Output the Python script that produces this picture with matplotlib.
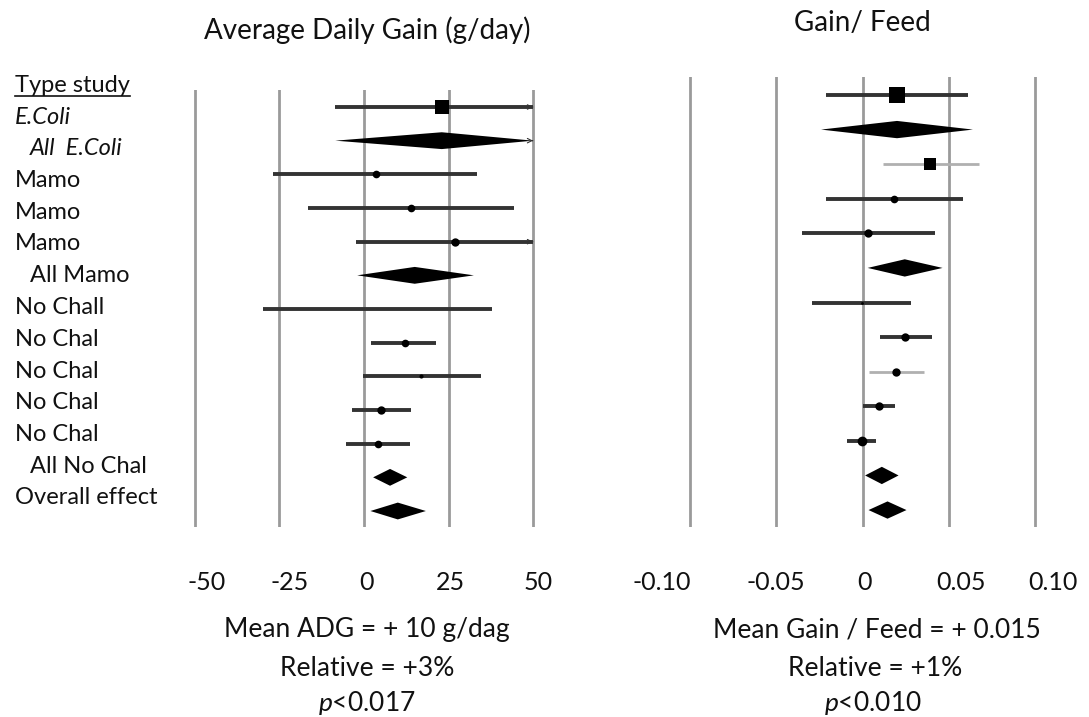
import matplotlib.pyplot as plt
from matplotlib.transforms import ScaledTranslation

plt.rcParams['font.family'] = ['Lato', 'DejaVu Sans']
plt.rcParams['mathtext.fontset'] = 'custom'
plt.rcParams['mathtext.rm'] = 'Lato'
plt.rcParams['mathtext.it'] = 'Lato:italic'

# study rows, top to bottom
study_labels = ["E.Coli", "All  E.Coli", "Mamo", "Mamo", "Mamo", "All Mamo",
                "No Chall", "No Chal", "No Chal", "No Chal", "No Chal",
                "All No Chal", "Overall effect"]
label_indent = [0, 1, 0, 0, 0, 1, 0, 0, 0, 0, 0, 1, 0]
label_italic = [1, 1, 0, 0, 0, 0, 0, 0, 0, 0, 0, 0, 0]
is_pooled = [0, 1, 0, 0, 0, 1, 0, 0, 0, 0, 0, 1, 1]

# Average daily gain (g/day)
adg_est = [23, 23, 3.5, 14, 27, 15, 4, 12, 17, 5, 4, 7.7, 10]
adg_lo = [-8.5, -8.5, -27, -16.5, -2.5, -2, -30, 2.2, -0.4, -3.6, -5.2, 2.7, 1.9]
adg_hi = [50, 50, 33.5, 44.4, 50, 32.5, 38, 21.4, 34.6, 14, 13.7, 12.8, 18.3]
adg_arrow = [1, 1, 0, 0, 1, 0, 0, 0, 0, 0, 0, 0, 0]
adg_msize = [10, 0, 5.5, 5.5, 6, 0, 0, 5.5, 3, 6, 5.5, 0, 0]
adg_marker = ['s', '', 'o', 'o', 'o', '', 'o', 'o', 'o', 'o', 'o', '', '']

# Gain / Feed
gf_est = [0.020, 0.020, 0.039, 0.0185, 0.003, 0.0245, -0.0004, 0.0245, 0.0197, 0.0097, -0.0004, 0.0112, 0.0145]
gf_lo = [-0.021, -0.024, 0.012, -0.021, -0.035, 0.003, -0.029, 0.010, 0.004, 0.0, -0.0087, 0.0015, 0.0035]
gf_hi = [0.061, 0.064, 0.0676, 0.058, 0.042, 0.0464, 0.028, 0.040, 0.0354, 0.0189, 0.0077, 0.0209, 0.0255]
gf_msize = [12, 0, 8.5, 5.5, 6, 0, 2, 6, 6, 6, 7, 0, 0]
gf_marker = ['s', '', 's', 'o', 'o', '', 'o', 'o', 'o', 'o', 'o', '', '']
gf_light = [0, 0, 1, 0, 0, 0, 0, 0, 1, 0, 0, 0, 0]

adg_ticks = [-50, -25, 0, 25, 50]
adg_ticklabels = ["-50", "-25", "0", "25", "50"]
gf_ticks = [-0.10, -0.05, 0, 0.05, 0.10]
gf_ticklabels = ["-0.10", "-0.05", "0", "0.05", "0.10"]

W, H = 1089, 717
fig = plt.figure(figsize=(W / 100, H / 100), dpi=100)
txt_c = '#111111'


def px_axes(x0, x1, y0, y1):
    return fig.add_axes([x0 / W, 1 - y1 / H, (x1 - x0) / W, (y1 - y0) / H])


ax1 = px_axes(188.2, 539.8, 90, 527)
ax2 = px_axes(684.8, 1040.2, 77, 527)
ax1.set_xlim(-52, 52)
ax1.set_ylim(12.475, -0.505)
ax2.set_xlim(-0.103, 0.103)
ax2.set_ylim(12.49, -0.52)

dark = '#333333'
grid_c = '#9a9a9a'
n = len(study_labels)


def draw_panel(ax, est, lo, hi, msize, marker, light, arrow, ticks, ticklabels, offsets):
    for t in ticks:
        ax.axvline(t, color=grid_c, lw=2, zorder=0)
    for i in range(n):
        if is_pooled[i]:
            h = 0.25
            ax.fill([lo[i], est[i], hi[i], est[i]], [i, i - h, i, i + h],
                    color='black', lw=0, zorder=3)
        else:
            c = '#b0b0b0' if light[i] else dark
            ax.plot([lo[i], hi[i]], [i, i], color=c, lw=2.8 if not light[i] else 2,
                    solid_capstyle='butt', zorder=2)
            if msize[i]:
                ax.plot(est[i], i, marker=marker[i], ms=msize[i], color='black', mew=0, zorder=4)
        if arrow[i]:
            span = ax.get_xlim()[1] - ax.get_xlim()[0]
            ax.annotate('', xy=(hi[i], i), xytext=(hi[i] - span * 0.01, i),
                        arrowprops=dict(arrowstyle='->', lw=0.8, color=dark,
                                        mutation_scale=8), zorder=3)
    ax.set_xticks(ticks)
    ax.set_xticklabels(ticklabels, fontsize=18, color=txt_c)
    ax.tick_params(axis='x', length=0, pad=32)
    ax.set_yticks([])
    for lab, dx in zip(ax.get_xticklabels(), offsets):
        lab.set_transform(lab.get_transform() + ScaledTranslation(dx / 100, 0, fig.dpi_scale_trans))
    for s in ax.spines.values():
        s.set_visible(False)


draw_panel(ax1, adg_est, adg_lo, adg_hi, adg_msize, adg_marker, [0] * n, adg_arrow,
           adg_ticks, adg_ticklabels, [12, 10, 2, 2, 5])
draw_panel(ax2, gf_est, gf_lo, gf_hi, gf_msize, gf_marker, gf_light, [0] * n,
           gf_ticks, gf_ticklabels, [-28, 0, 2, 12, 18])

# row labels
head = fig.text(15 / W, 1 - 85 / H, "Type study", fontsize=17, color=txt_c,
                va='center', ha='left')
fig.canvas.draw()
bb = head.get_window_extent().transformed(fig.transFigure.inverted())
fig.add_artist(plt.Line2D([bb.x0, bb.x1], [1 - 96 / H, 1 - 96 / H], color=txt_c, lw=1.2))
for i, lab in enumerate(study_labels):
    y = 117 + i * 31.75
    x = 15 + 15 * label_indent[i]
    fig.text(x / W, 1 - y / H, lab, fontsize=17, color=txt_c, va='center', ha='left',
             style='italic' if label_italic[i] else 'normal')

# titles
fig.text(367 / W, 1 - 30 / H, "Average Daily Gain (g/day)", fontsize=20, color=txt_c,
         ha='center', va='center')
fig.text(862 / W, 1 - 23 / H, "Gain/ Feed", fontsize=20, color=txt_c,
         ha='center', va='center')

# summary text
fig.text(367 / W, 1 - 630 / H, "Mean ADG = + 10 g/dag", fontsize=19, color=txt_c,
         ha='center', va='center')
fig.text(367 / W, 1 - 668 / H, "Relative = +3%", fontsize=19, color=txt_c,
         ha='center', va='center')
fig.text(367 / W, 1 - 703 / H, r"$\it{p}$<0.017", fontsize=19, color=txt_c,
         ha='center', va='center')
fig.text(877 / W, 1 - 630 / H, "Mean Gain / Feed = + 0.015", fontsize=19, color=txt_c,
         ha='center', va='center')
fig.text(875 / W, 1 - 668 / H, "Relative = +1%", fontsize=19, color=txt_c,
         ha='center', va='center')
fig.text(873 / W, 1 - 703 / H, r"$\it{p}$<0.010", fontsize=19, color=txt_c,
         ha='center', va='center')

fig.savefig('out.png', dpi=100)
